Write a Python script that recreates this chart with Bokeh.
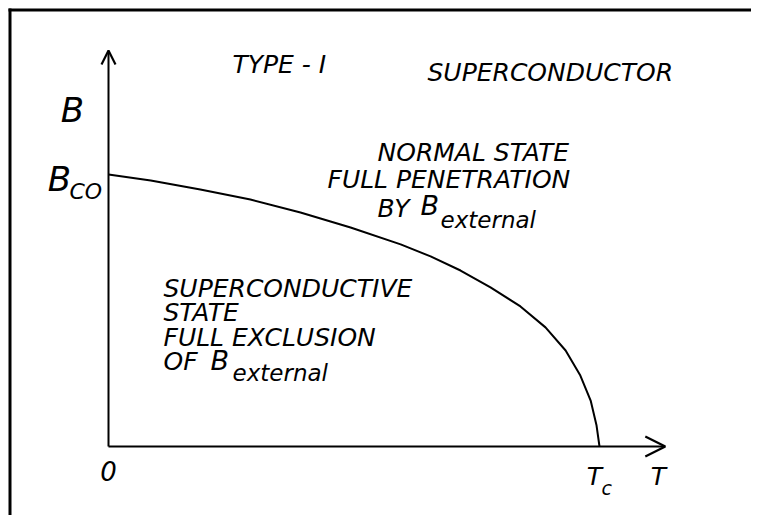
from bokeh.plotting import figure
from bokeh.models import Range1d, Arrow, OpenHead, Label, BoxAnnotation
from bokeh.embed import file_html
from bokeh.resources import INLINE

# Critical field curve (T in units of Tc, B in units of Bc0)
T_vals = [0.0, 0.086, 0.187, 0.289, 0.391, 0.493, 0.595, 0.656, 0.717, 0.778,
          0.839, 0.890, 0.931, 0.961, 0.982, 0.994, 1.0]
B_vals = [1.0, 0.978, 0.945, 0.908, 0.860, 0.805, 0.743, 0.699, 0.647, 0.585,
          0.515, 0.438, 0.353, 0.261, 0.169, 0.077, 0.0]

# Axis extents (arrow tips) in the same units
T_AXIS_END = 1.134
B_AXIS_END = 1.456

FONT = "DejaVu Sans"
W, H = 751, 515


def px(x):
    return (x - 108) / 491.0


def py(y):
    return (446 - y) / 272.0


p = figure(width=W, height=H,
           x_range=Range1d(px(0), px(W)), y_range=Range1d(py(H), py(0)),
           output_backend="svg", toolbar_location=None,
           x_axis_location=None, y_axis_location=None,
           min_border_left=0, min_border_top=0, min_border_right=0, min_border_bottom=0,
           border_fill_color="white", background_fill_color="white",
           outline_line_color=None)
p.grid.visible = False

# frame of the sheet (only top and left edges are inside the window)
p.add_layout(BoxAnnotation(left=px(8), right=px(11), top=py(8),
                           fill_color="black", fill_alpha=1, line_color=None))
p.add_layout(BoxAnnotation(left=px(8), top=py(8), bottom=py(11),
                           fill_color="black", fill_alpha=1, line_color=None))

# axes with open arrowheads
p.add_layout(Arrow(end=OpenHead(size=14, line_width=2.2, line_color="black"),
                   x_start=0, y_start=0, x_end=0, y_end=B_AXIS_END,
                   line_width=2, line_color="black"))
p.add_layout(Arrow(end=OpenHead(size=20, line_width=2.2, line_color="black"),
                   x_start=0, y_start=0, x_end=T_AXIS_END, y_end=0,
                   line_width=2, line_color="black"))

# critical-field curve
p.line(T_vals, B_vals, line_width=2, line_color="black", line_join="round")


def lab(text, x, y, size, align="left", style="italic"):
    p.add_layout(Label(x=px(x), y=py(y), text=text, text_font=FONT,
                       text_font_size=f"{size}px", text_font_style=style,
                       text_color="black", text_align=align,
                       text_baseline="middle"))


# title
lab("TYPE - I", 232, 64, 25)
lab("SUPERCONDUCTOR", 427, 72, 25)

# normal-state region
lab("NORMAL STATE", 377, 152, 25)
lab("FULL PENETRATION", 327, 179, 25)
lab("BY", 377, 208, 25)
lab("B", 420, 205, 27)
lab("external", 440, 219, 23)

# superconducting region
lab("SUPERCONDUCTIVE", 163, 288, 25)
lab("STATE", 163, 312, 25)
lab("FULL EXCLUSION", 163, 337, 25)
lab("OF", 163, 361, 25)
lab("B", 210, 360, 27)
lab("external", 232, 372, 23)

# axis labels
lab("B", 72, 109, 34, align="center")
lab("B", 59, 178, 34, align="center")
lab("CO", 69, 191, 22)
lab("0", 108, 470, 26, align="center")
lab("T", 594, 476, 25, align="center")
lab("c", 601, 487, 19)
lab("T", 658, 476, 25, align="center")

open("out.html", "w").write(file_html(p, INLINE))
